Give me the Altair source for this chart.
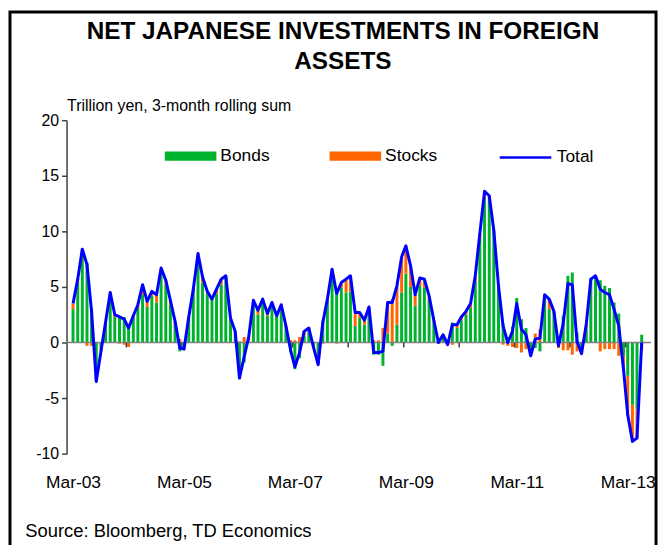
import altair as alt
import pandas as pd

# ---- data (trillion yen, 3-month rolling sum), monthly from Mar-03 ----
months = pd.date_range("2003-03-01", periods=124, freq="MS").strftime("%Y/%m/%d").tolist()

bonds = [
    3.0, 5.4, 8.3, 7.2, 3.1, -3.3, -0.6, 1.8, 4.3, 2.3,
    2.4, 2.3, 1.6, 2.2, 3.1, 4.3, 3.2, 4.2, 3.6, 6.2,
    5.2, 3.4, 1.6, -0.8, -0.5, 2.2, 4.8, 7.6, 5.4, 4.4,
    3.8, 4.4, 5.2, 5.9, 2.0, 0.7, -3.3, -1.8, 0.1, 3.5,
    2.5, 3.8, 2.4, 3.5, 2.3, 3.3, 1.4, -0.9, -2.4, -1.4,
    0.6, 1.3, -0.3, -1.8, 1.9, 3.8, 6.2, 4.5, 4.9, 4.5,
    4.6, 1.5, 2.2, 1.6, 3.0, -1.1, -1.1, -2.1, 0.8, -0.3,
    1.6, 4.5, 6.2, 5.0, 3.3, 5.1, 4.9, 3.9, 1.8, 0.1,
    0.6, -0.1, 1.8, 1.3, 2.0, 2.5, 3.1, 5.5, 9.4, 12.9,
    13.1, 10.0, 5.1, 1.7, 0.3, 1.4, 4.0, 2.1, 1.3, -0.7,
    -0.5, -0.8, 3.9, 3.0, 2.7, 0.2, 2.4, 6.0, 6.3, 0.9,
    -0.4, 1.3, 5.8, 5.8, 5.6, 5.1, 4.9, 3.6, 2.6, -1.2,
    -3.0, -5.6, -6.0, 0.7,
]

stocks = [
    0.5, 0.3, 0.1, -0.3, -0.3, -0.2, -0.2, 0.0, 0.2, 0.2,
    -0.1, -0.2, -0.4, 0.2, 0.3, 0.8, 0.5, 0.4, 0.7, 0.4,
    0.4, 0.4, 0.3, 0.3, -0.1, 0.1, 0.1, 0.4, 0.5, 0.2,
    0.1, 0.4, 0.5, 0.1, 0.2, 0.3, 0.1, 0.5, 0.4, 0.3,
    0.4, 0.1, 0.2, 0.1, 0.1, 0.1, 0.1, 0.2, 0.2, 0.5,
    0.4, 0.0, -0.1, -0.2, -0.1, 0.1, 0.4, -0.1, 0.5, 1.2,
    1.4, 1.1, 0.4, 0.4, 0.2, 0.2, 0.2, 1.3, 2.8, 3.9,
    3.5, 3.2, 2.5, 1.9, 1.0, 0.7, 0.8, 0.3, 0.2, -0.1,
    0.1, -0.1, -0.2, 0.3, 0.3, 0.3, 0.4, 0.4, 0.4, 0.6,
    0.1, 0.1, 0.0, -0.2, -0.3, -0.4, -0.5, -0.9, -0.6, -0.5,
    0.8, 1.2, 0.4, 0.9, 0.1, -0.5, -0.7, -0.7, -1.1, -0.8,
    -0.6, 0.35, 0.0, 0.2, -0.8, -0.6, -0.6, -0.6, -1.2, -1.2,
    -3.6, -3.2, -2.6, -0.7,
]

total = [
    3.5, 5.7, 8.4, 7.0, 2.8, -3.5, -0.8, 1.8, 4.5, 2.5,
    2.3, 2.1, 1.3, 2.4, 3.4, 5.2, 3.7, 4.6, 4.3, 6.7,
    5.6, 3.8, 1.9, -0.5, -0.6, 2.3, 4.8, 8.0, 5.9, 4.6,
    3.9, 4.8, 5.7, 6.0, 2.2, 1.0, -3.2, -1.3, 0.5, 3.8,
    2.9, 3.9, 2.6, 3.6, 2.4, 3.4, 1.5, -0.7, -2.2, -0.9,
    1.0, 1.3, -0.4, -2.0, 1.8, 3.9, 6.6, 4.4, 5.4, 5.7,
    6.0, 2.7, 2.7, 2.0, 3.2, -0.9, -0.9, -0.8, 3.6, 3.6,
    5.1, 7.7, 8.7, 6.9, 4.3, 5.8, 5.7, 4.2, 2.0, 0.0,
    0.7, -0.2, 1.6, 1.6, 2.3, 2.8, 3.5, 6.0, 9.8, 13.6,
    13.2, 10.1, 5.1, 1.5, 0.0, 1.0, 3.5, 1.2, 0.7, -1.2,
    0.3, 0.4, 4.3, 3.9, 2.8, -0.3, 1.7, 5.3, 5.2, 0.1,
    -1.0, 1.65, 5.7, 6.0, 4.8, 4.5, 4.3, 3.0, 1.5, -2.4,
    -6.5, -8.9, -8.6, 0.0,
]

series_names = ["Bonds", "Stocks"]
line_name = "Total"
tick_years = [2003, 2005, 2007, 2009, 2011, 2013]
year_ticks = [f"{y}/02/15" for y in range(2004, 2014)]   # category boundaries Feb|Mar
y_ticks = [-10, -5, 0, 5, 10, 15, 20]

GREEN = "#00B32C"
ORANGE = "#FF6600"
BLUE = "#0000FF"
FONT = "Liberation Sans"

bars_df = pd.DataFrame({
    "date": months * 2,
    "series": ["Bonds"] * len(months) + ["Stocks"] * len(months),
    "ord": [0] * len(months) + [1] * len(months),
    "value": bonds + stocks,
})
line_df = pd.DataFrame({"date": months, "total": total, "name": [line_name] * len(months)})
zero_df = pd.DataFrame({"z": [0]})
ticks_df = pd.DataFrame({"date": year_ticks, "y0": [0.0] * len(year_ticks),
                         "y1": [-0.45] * len(year_ticks)})
frame_df = pd.DataFrame({"f": [0]})

x_scale = alt.Scale(domain=[alt.DateTime(year=2003, month=2, date=19),
                            alt.DateTime(year=2013, month=6, date=30)])
y_scale = alt.Scale(domain=[-10, 20], nice=False, zero=False)

x_axis = alt.Axis(
    values=[alt.DateTime(year=y, month=3, date=1) for y in tick_years],
    format="%b-%y", labelFontSize=17.5, labelColor="black", ticks=False, domain=False,
    grid=False, labelPadding=20, title="Source: Bloomberg, TD Economics",
    titleFontSize=18.5, titleFontWeight="normal", titleColor="black",
    titleAnchor="start", titleAlign="left", titleX=-42, titleY=78,
    titleBaseline="middle")
y_axis = alt.Axis(
    values=y_ticks, labelFontSize=16, labelColor="black", tickSize=5,
    labelExpr="datum.value < 0 ? '-' + abs(datum.value) : '' + datum.value",
    tickColor="#404040", domainColor="#404040", domainWidth=1.5, tickWidth=1.5,
    grid=False, labelPadding=3, title="Trillion yen, 3-month rolling sum",
    titleAngle=0, titleX=0, titleY=-10, titleAlign="left", titleBaseline="alphabetic",
    titleFontSize=16, titleFontWeight="normal", titleColor="black")

bars = alt.Chart(bars_df).mark_bar(size=3).encode(
    x=alt.X("date:T", scale=x_scale, axis=x_axis),
    y=alt.Y("value:Q", stack="zero", scale=y_scale, axis=y_axis),
    color=alt.Color("series:N", scale=alt.Scale(domain=series_names, range=[GREEN, ORANGE]),
                    legend=alt.Legend(title=None, orient="none", legendX=99, legendY=10,
                                      direction="horizontal", symbolType="M-1,-0.18H1V0.18H-1Z",
                                      symbolSize=2700, symbolStrokeWidth=0, symbolOpacity=1,
                                      labelFontSize=17.5, labelColor="black", labelOffset=4,
                                      columnPadding=57, gridAlign="all")),
    order=alt.Order("ord:Q", sort="ascending"),
)

zero_rule = alt.Chart(zero_df).mark_rule(color="#808080", strokeWidth=1.5).encode(
    y=alt.Y("z:Q", scale=y_scale, axis=y_axis)
)

cat_ticks = alt.Chart(ticks_df).mark_rule(color="#404040", strokeWidth=1.5).encode(
    x=alt.X("date:T", scale=x_scale, axis=x_axis),
    y=alt.Y("y0:Q", scale=y_scale, axis=y_axis),
    y2="y1:Q",
)

line = alt.Chart(line_df).mark_line(strokeWidth=3, strokeJoin="round").encode(
    x=alt.X("date:T", scale=x_scale, axis=x_axis),
    y=alt.Y("total:Q", scale=y_scale, axis=y_axis),
    stroke=alt.Stroke("name:N", scale=alt.Scale(domain=[line_name], range=[BLUE]),
                      legend=alt.Legend(title=None, orient="none", legendX=435, legendY=10,
                                        symbolType="stroke", symbolSize=2700,
                                        symbolStrokeWidth=2.5, labelFontSize=17.5,
                                        labelColor="black", labelOffset=4)),
)

frame = alt.Chart(frame_df).mark_rect(fill="white", fillOpacity=0, stroke="black",
                                      strokeWidth=3).encode(
    x=alt.value(-57), x2=alt.value(594), y=alt.value(-109), y2=alt.value(460)
)

chart = alt.layer(bars, zero_rule, cat_ticks, line, frame).properties(
    width=589, height=336,
    padding={"left": 59, "top": 111, "right": 8, "bottom": 90},
    autosize=alt.AutoSizeParams(type="none"),
    title=alt.TitleParams(text=["NET JAPANESE INVESTMENTS IN FOREIGN", "ASSETS"],
                          fontSize=24.5, fontWeight="bold", font=FONT, color="black",
                          anchor="middle", dx=-16, dy=86, lineHeight=30, offset=22),
).configure(font=FONT).configure_view(stroke=None)

chart.save("out.html", embed_options={"renderer": "svg", "actions": False})
